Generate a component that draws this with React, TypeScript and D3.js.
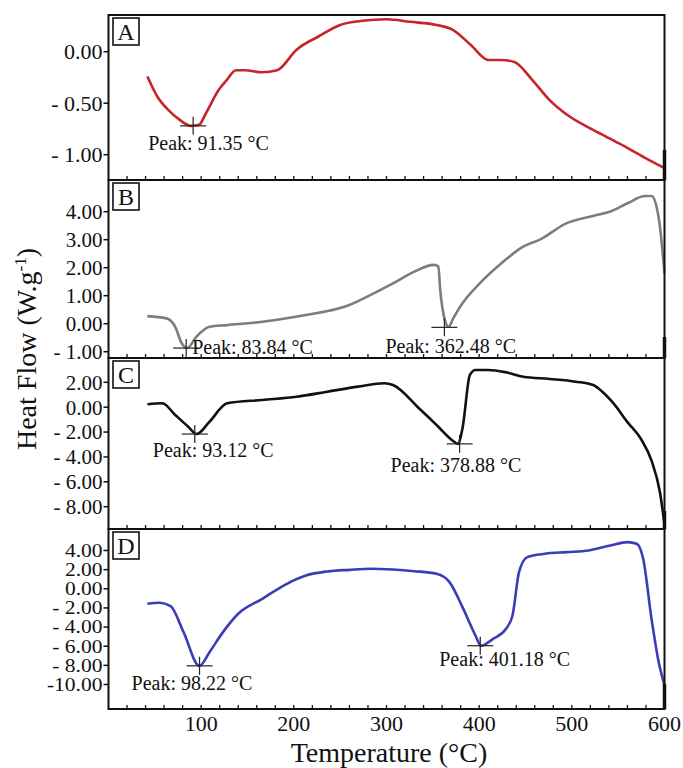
import React from "react";
import * as d3 from "d3";

// ---------- DATA ----------
const tempA = [42, 53, 65, 76.5, 89, 97.7, 105, 119, 128, 137.6, 147, 165.8, 182, 203, 227, 250, 274, 300, 325, 354, 372, 391, 410, 424, 438, 457, 476, 494.5, 523, 551, 579, 600];
const flowA = [-0.24, -0.44, -0.57, -0.66, -0.72, -0.71, -0.6, -0.37, -0.27, -0.18, -0.18, -0.2, -0.18, 0.02, 0.15, 0.26, 0.3, 0.315, 0.29, 0.26, 0.21, 0.065, -0.08, -0.08, -0.1, -0.27, -0.47, -0.61, -0.76, -0.89, -1.03, -1.13];

const tempB = [42, 62.5, 72, 79, 85, 95, 109, 128, 166, 213, 260, 283, 307, 330, 351, 356, 358, 363, 367, 372, 382, 400.6, 424, 447.5, 466, 494.5, 522.7, 541, 560, 579, 586, 591, 595.5, 600];
const flowB = [0.27, 0.19, -0.11, -0.7, -0.87, -0.46, -0.11, -0.05, 0.07, 0.31, 0.67, 1.03, 1.44, 1.86, 2.1, 2.04, 1.2, 0.13, -0.11, 0.19, 0.73, 1.44, 2.16, 2.75, 3.01, 3.59, 3.85, 4.0, 4.3, 4.56, 4.56, 4.24, 3.35, 1.8];

const tempC = [42, 58, 72, 86, 95, 109, 128, 166, 203, 236, 269, 297.8, 307, 335, 354, 372, 377, 382, 390, 396, 410, 429, 447.5, 476, 504, 523, 532, 545, 560, 575, 586, 595, 600];
const flowC = [0.23, 0.31, -0.63, -1.57, -2.16, -1.17, 0.31, 0.58, 0.84, 1.24, 1.65, 1.92, 1.78, -0.09, -1.43, -2.72, -2.95, -1.7, 2.59, 2.99, 2.99, 2.8, 2.45, 2.27, 2.05, 1.78, 1.3, 0.3, -1.2, -2.6, -4.3, -6.8, -9.4];

const tempD = [42, 55, 67, 81, 98, 109, 123.5, 140, 166, 189, 213, 236, 260, 283, 307, 330, 354, 368, 382, 396, 402, 415, 429, 436, 443, 452, 471, 494.5, 518, 541.5, 560, 570, 577, 586, 593, 600];
const flowD = [-1.57, -1.46, -1.81, -4.53, -8.05, -6.62, -4.53, -2.61, -1.05, 0.34, 1.39, 1.81, 1.98, 2.09, 2.01, 1.84, 1.57, 0.7, -1.91, -4.88, -5.95, -5.23, -4.18, -2.79, 1.74, 3.31, 3.66, 3.83, 4.0, 4.52, 4.87, 4.7, 3.13, -3.14, -7.3, -10.1];

const panelLetters = ["A", "B", "C", "D"];
const yDomains = [[-1.2456, 0.3563], [-1.225, 5.132], [-9.793, 3.953], [-12.56, 6.246]];
const yTicks = [[0, -0.5, -1], [4, 3, 2, 1, 0, -1], [2, 0, -2, -4, -6, -8], [4, 2, 0, -2, -4, -6, -8, -10]];

const peakTempsA = [91.35];
const peakFlowsA = [-0.72];
const peakTempsB = [83.84, 362.48];
const peakFlowsB = [-0.87, -0.13];
const peakTempsC = [93.12, 378.88];
const peakFlowsC = [-2.16, -2.95];
const peakTempsD = [98.22, 401.18];
const peakFlowsD = [-8.05, -5.95];

const xTickLabels = [100, 200, 300, 400, 500, 600];
const xMinorTicks = d3.range(20, 600, 20);

// ---------- LAYOUT / STYLE ----------
const W = 683, H = 768;
const plotLeft = 108.5, plotRight = 664.5;
const panelTops = [15, 180, 358, 529];
const panelBottoms = [180, 358, 529, 709];
const colors = ["#c9232c", "#7d7d7d", "#111111", "#3a3db3"];
const tickFontSizes = [22, 21, 21, 18];
// label offsets relative to crosshair (dx, dy baseline)
const labelOffsets = [
  [[-45, 24]],
  [[6, 6], [-59, 26]],
  [[-42, 23], [-69, 28]],
  [[-68, 24], [-41, 20]],
];
// thick stitching marks at the right edge near each panel's bottom
const edgeMarks = [[150, 180], [337, 358], [511, 529], [684, 709]];
const FONT = "Liberation Serif";
const tstyle = { fontFamily: FONT };

const fmt = (v: number) => {
  if (v === 0) return "0.00";
  if (v > 0) return v.toFixed(2);
  const a = Math.abs(v);
  return a >= 10 ? "-" + a.toFixed(2) : "- " + a.toFixed(2);
};

// approximate Times-like width (in em) for stretching condensed labels
const emWidth = (s: string) =>
  s.split("").reduce((acc, ch) => acc + (ch === "." ? 0.25 : ch === " " ? 0.25 : ch === "-" ? 0.333 : 0.5), 0);

export default function App() {
  const x = d3.scaleLinear().domain([0, 600]).range([plotLeft, plotRight]);
  const series = [
    { t: tempA, f: flowA, pt: peakTempsA, pf: peakFlowsA },
    { t: tempB, f: flowB, pt: peakTempsB, pf: peakFlowsB },
    { t: tempC, f: flowC, pt: peakTempsC, pf: peakFlowsC },
    { t: tempD, f: flowD, pt: peakTempsD, pf: peakFlowsD },
  ];

  return (
    <svg width={W} height={H} style={{ position: "absolute", left: 0, top: 0, background: "#fff", fontFamily: FONT }}>
      <rect x={0} y={0} width={W} height={H} fill="#fff" />
      {series.map((s, i) => {
        const y = d3.scaleLinear().domain(yDomains[i]).range([panelBottoms[i], panelTops[i]]);
        const line = d3
          .line<number>()
          .x((_, k) => x(s.t[k]))
          .y((d) => y(d))
          .curve(d3.curveMonotoneX);
        return (
          <g key={i}>
            <path d={line(s.f) || ""} fill="none" stroke={colors[i]} strokeWidth={2.6} strokeLinejoin="round" />
            <rect x={plotLeft} y={panelTops[i]} width={plotRight - plotLeft} height={panelBottoms[i] - panelTops[i]} fill="none" stroke="#111" strokeWidth={2} />
            <line x1={plotRight} x2={plotRight} y1={edgeMarks[i][0]} y2={edgeMarks[i][1]} stroke="#111" strokeWidth={3.5} />
            {xMinorTicks.map((t) => (
              <line key={t} x1={x(t)} x2={x(t)} y1={panelBottoms[i]} y2={panelBottoms[i] - 4} stroke="#111" strokeWidth={1.3} />
            ))}
            {yTicks[i].map((v) => {
              const label = fmt(v);
              return (
                <g key={v}>
                  <line x1={plotLeft - 5} x2={plotLeft} y1={y(v)} y2={y(v)} stroke="#111" strokeWidth={1.5} />
                  <text
                    x={plotLeft - 6}
                    y={y(v)}
                    dy="0.35em"
                    textAnchor="end"
                    fontSize={tickFontSizes[i]}
                    fill="#111"
                    style={tstyle}
                    {...(i === 3 ? { textLength: emWidth(label) * 21.5, lengthAdjust: "spacingAndGlyphs" } : {})}
                  >
                    {label}
                  </text>
                </g>
              );
            })}
            <rect x={113} y={panelTops[i] + 3} width={26} height={27} fill="#fff" stroke="#111" strokeWidth={1.6} />
            <text x={126} y={panelTops[i] + 25} textAnchor="middle" fontSize={24} fill="#111" style={tstyle}>
              {panelLetters[i]}
            </text>
            {s.pt.map((pt, k) => {
              const cx = x(pt);
              const cy = y(s.pf[k]);
              const [dx, dy] = labelOffsets[i][k];
              return (
                <g key={k}>
                  <line x1={cx - 13} x2={cx + 13} y1={cy} y2={cy} stroke="#222" strokeWidth={1.2} />
                  <line x1={cx} x2={cx} y1={cy - 9} y2={cy + 9} stroke="#222" strokeWidth={1.2} />
                  <text x={cx + dx} y={cy + dy} fontSize={20} fill="#111" style={tstyle}>
                    {`Peak: ${pt.toFixed(2)} °C`}
                  </text>
                </g>
              );
            })}
          </g>
        );
      })}
      {xTickLabels.map((t) => (
        <text key={t} x={x(t)} y={731} textAnchor="middle" fontSize={22} fill="#111" style={tstyle}>
          {t}
        </text>
      ))}
      <text x={389} y={762} textAnchor="middle" fontSize={28} fill="#111" style={tstyle}>
        Temperature (°C)
      </text>
      <text transform="translate(36,349) rotate(-90)" textAnchor="middle" fontSize={28} fill="#111" style={tstyle}>
        Heat Flow (W.g
        <tspan dy={-10} fontSize={17}>-1</tspan>
        <tspan dy={10}>)</tspan>
      </text>
    </svg>
  );
}
